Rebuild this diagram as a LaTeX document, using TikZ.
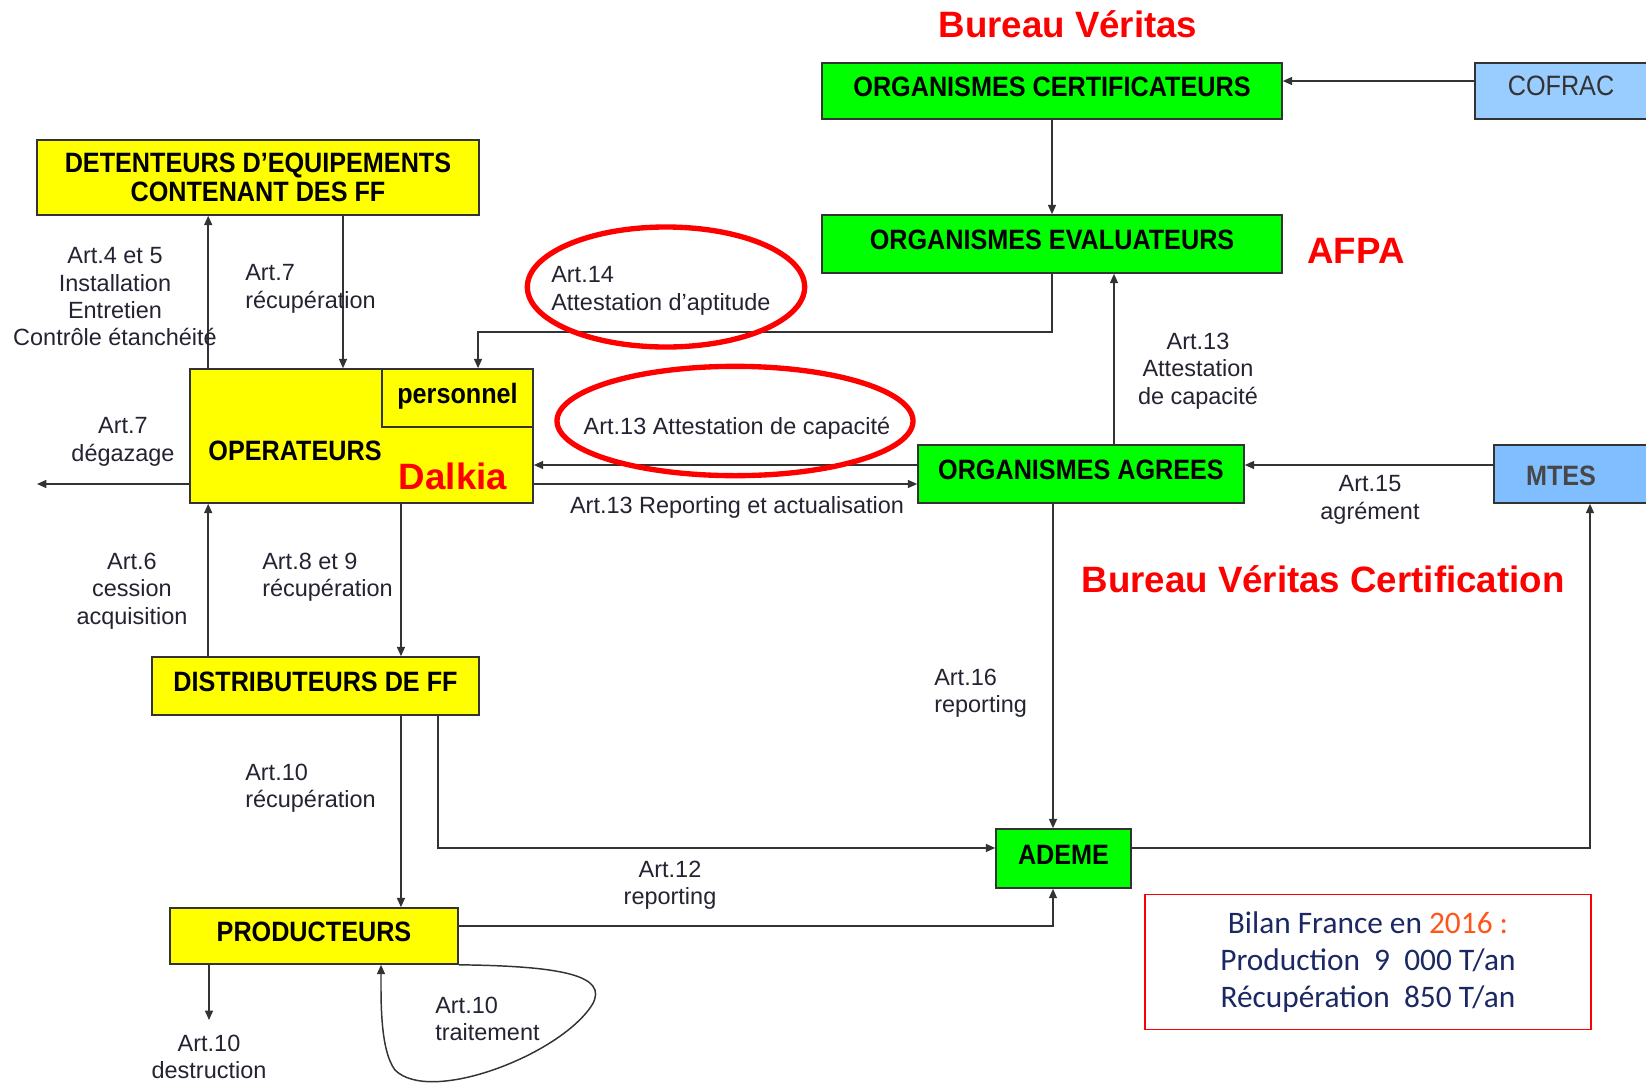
\documentclass[tikz,border=0pt]{standalone}
\usepackage{fontspec}
\setmainfont{Liberation Sans}
\newfontfamily\boxfont[FakeStretch=0.9]{Liberation Sans}
\newfontfamily\bilanfont{Carlito}
\usetikzlibrary{arrows.meta,calc}
\definecolor{ffyellow}{RGB}{255,255,0}
\definecolor{orggreen}{RGB}{0,255,0}
\definecolor{cofracblue}{RGB}{153,204,255}
\definecolor{mtesblue}{RGB}{128,190,255}
\definecolor{bilannavy}{RGB}{28,40,100}
\definecolor{bilanorange}{RGB}{255,85,25}
\definecolor{lblink}{RGB}{35,35,50}

\begin{document}
\begin{tikzpicture}[x=0.75pt,y=-0.75pt,
  box/.style={draw=black!80,line width=1.2pt,inner sep=0pt,align=center,
    font=\boxfont\bfseries\fontsize{21}{22}\selectfont},
  lift/.style={text height=15pt,text depth=6.3pt},
  ybox/.style={box,fill=ffyellow},
  gbox/.style={box,fill=orggreen},
  bbox/.style={box,fill=cofracblue},
  boxtxt/.style={inner sep=0pt,font=\boxfont\bfseries\fontsize{21}{22}\selectfont},
  lbl/.style={inner sep=0pt,align=center,text=lblink,font=\fontsize{17.6}{20.5}\selectfont},
  lbll/.style={lbl,align=left,anchor=west},
  who/.style={inner sep=0pt,text=red,font=\bfseries\fontsize{27.5}{30}\selectfont},
  arr/.style={draw=black!80,line width=1.1pt,-{Triangle[length=7pt,width=6pt]}},
  ring/.style={draw=red,line width=4pt}]
  \useasboundingbox (0,0) rectangle (1646,1082);
  \node[gbox,lift,minimum width=345pt,minimum height=42pt] (cert) at (1052,91) {ORGANISMES CERTIFICATEURS};
  \node[bbox,minimum width=138pt,minimum height=42pt] (cofrac) at (1567,91) {};
  \node[boxtxt,font=\boxfont\fontsize{21}{22}\selectfont,text=black!80] (cofract) at (1561,86) {COFRAC};
  \node[gbox,lift,minimum width=345pt,minimum height=43.5pt] (eval) at (1052,244) {ORGANISMES EVALUATEURS};
  \node[ybox,minimum width=331.5pt,minimum height=56.25pt] (det) at (258,177.5) {DETENTEURS D’EQUIPEMENTS\\CONTENANT DES FF};
  \node[ybox,minimum width=257.25pt,minimum height=100.5pt] (oper) at (361.5,436) {};
  \node[ybox,lift,minimum width=113.25pt,minimum height=43.5pt] (pers) at (457.5,398) {personnel};
  \node[boxtxt] (opert) at (295,451) {OPERATEURS};
  \node[gbox,lift,minimum width=244.5pt,minimum height=43.5pt] (agr) at (1081,474) {ORGANISMES AGREES};
  \node[box,fill=mtesblue,minimum width=132pt,minimum height=43.5pt] (mtes) at (1582,474) {};
  \node[boxtxt,text=black!72] (mtest) at (1561,476) {MTES};
  \node[ybox,lift,minimum width=245.25pt,minimum height=43.5pt] (dist) at (315.5,686) {DISTRIBUTEURS DE FF};
  \node[ybox,lift,minimum width=216pt,minimum height=42pt] (prod) at (314,936) {PRODUCTEURS};
  \node[gbox,lift,minimum width=101.25pt,minimum height=44.25pt] (ademe) at (1063.5,858.5) {ADEME};
  \node[draw=red,line width=1.1pt,fill=white,minimum width=334.5pt,minimum height=101.25pt,align=center,
    text=bilannavy,font=\bilanfont\fontsize{23.5}{28}\selectfont] (bilan) at (1368,962)
    {Bilan France en \textcolor{bilanorange}{2016 :}\\Production\ \ 9\ \ 000 T/an\\Récupération\ \ 850 T/an};
  \node[who] (bv) at (1068,24) {Bureau Véritas};
  \node[who] (afpa) at (1356,251) {AFPA};
  \node[who] (dalkia) at (453,476) {Dalkia};
  \node[who] (bvc) at (1323,579) {Bureau Véritas Certification};
  \coordinate (c13) at ([xshift=24.75pt]agr.north);
  \coordinate (cap) at ([yshift=6.75pt]agr.west);
  \coordinate (rep) at ([yshift=-7.5pt]agr.west);
  \coordinate (a16) at ([xshift=-21pt]agr.south);
  \coordinate (a46) at ([xshift=14.25pt]oper.north west);
  \coordinate (a7) at ([xshift=63.75pt]det.south);
  \coordinate (a89) at ([xshift=64.1pt]dist.north);
  \coordinate (dgz) at (37,484);
  \coordinate (dst) at (209,1020);
  \draw[arr] ([yshift=7.5pt]cofrac.west) -- ([yshift=7.5pt]cert.east);
  \draw[arr] (cert) -- (eval);
  \draw[arr] (eval.south) -- ++(0,58) -| ([xshift=15.4pt]pers.north);
  \draw[arr] (c13) -- (c13 |- eval.south);
  \draw[arr] (cap) -- (cap -| oper.east);
  \draw[arr] (rep -| oper.east) -- (rep);
  \draw[arr] ([yshift=6.75pt]mtes.west) -- ([yshift=6.75pt]agr.east);
  \draw[arr] ([yshift=7.9pt]ademe.east) -| ([xshift=6pt]mtes.south);
  \draw[arr] (a16) -- (a16 |- ademe.north);
  \draw[arr] (a46) -- (a46 |- det.south);
  \draw[arr] (a7) -- (a7 |- oper.north);
  \draw[arr] (oper.west |- dgz) -- (dgz);
  \draw[arr] (a46 |- dist.north) -- (a46 |- oper.south);
  \draw[arr] (a89 |- oper.south) -- (a89);
  \draw[arr] (a89 |- dist.south) -- (a89 |- prod.north);
  \draw[arr] ([xshift=91.9pt]dist.south) |- ([yshift=7.9pt]ademe.west);
  \draw[arr] ([yshift=7.5pt]prod.east) -| (a16 |- ademe.south);
  \draw[arr] (dst |- prod.south) -- (dst);
  \draw[arr] (prod.south east) .. controls (560,966) and (610,975) .. (592,1005)
    .. controls (560,1055) and (430,1105) .. (395,1070)
    .. controls (380,1050) and (381,1000) .. ([xshift=50.25pt]prod.south);
  \node[lbl] (l45) at (115,297) {Art.4 et 5\\Installation\\Entretien\\Contrôle étanchéité};
  \node[lbll] (l7r) at (245,289) {Art.7\\récupération};
  \node[lbl] (l7d) at (123,442) {Art.7\\dégazage};
  \node[lbll] (l14) at (551,291) {Art.14\\Attestation d’aptitude};
  \node[lbl] (l13c) at (737,428) {Art.13 Attestation de capacité};
  \node[lbl] (l13r) at (737,507) {Art.13 Reporting et actualisation};
  \node[lbl] (l13a) at (1198,371) {Art.13\\Attestation\\de capacité};
  \node[lbl] (l15) at (1370,500) {Art.15\\agrément};
  \node[lbl] (l6) at (132,591) {Art.6\\cession\\acquisition};
  \node[lbll] (l89) at (262,577) {Art.8 et 9\\récupération};
  \node[lbll] (l16) at (934,693) {Art.16\\reporting};
  \node[lbll] (l10r) at (245,788) {Art.10\\récupération};
  \node[lbl] (l12) at (670,885) {Art.12\\reporting};
  \node[lbl] (l10d) at (209,1057) {Art.10\\destruction};
  \node[lbll] (l10t) at (435,1019) {Art.10\\traitement};
  \draw[ring] (666,287) ellipse [x radius=104pt, y radius=45pt];
  \draw[ring] (735,421) ellipse [x radius=133.5pt, y radius=41pt];
\end{tikzpicture}
\end{document}
